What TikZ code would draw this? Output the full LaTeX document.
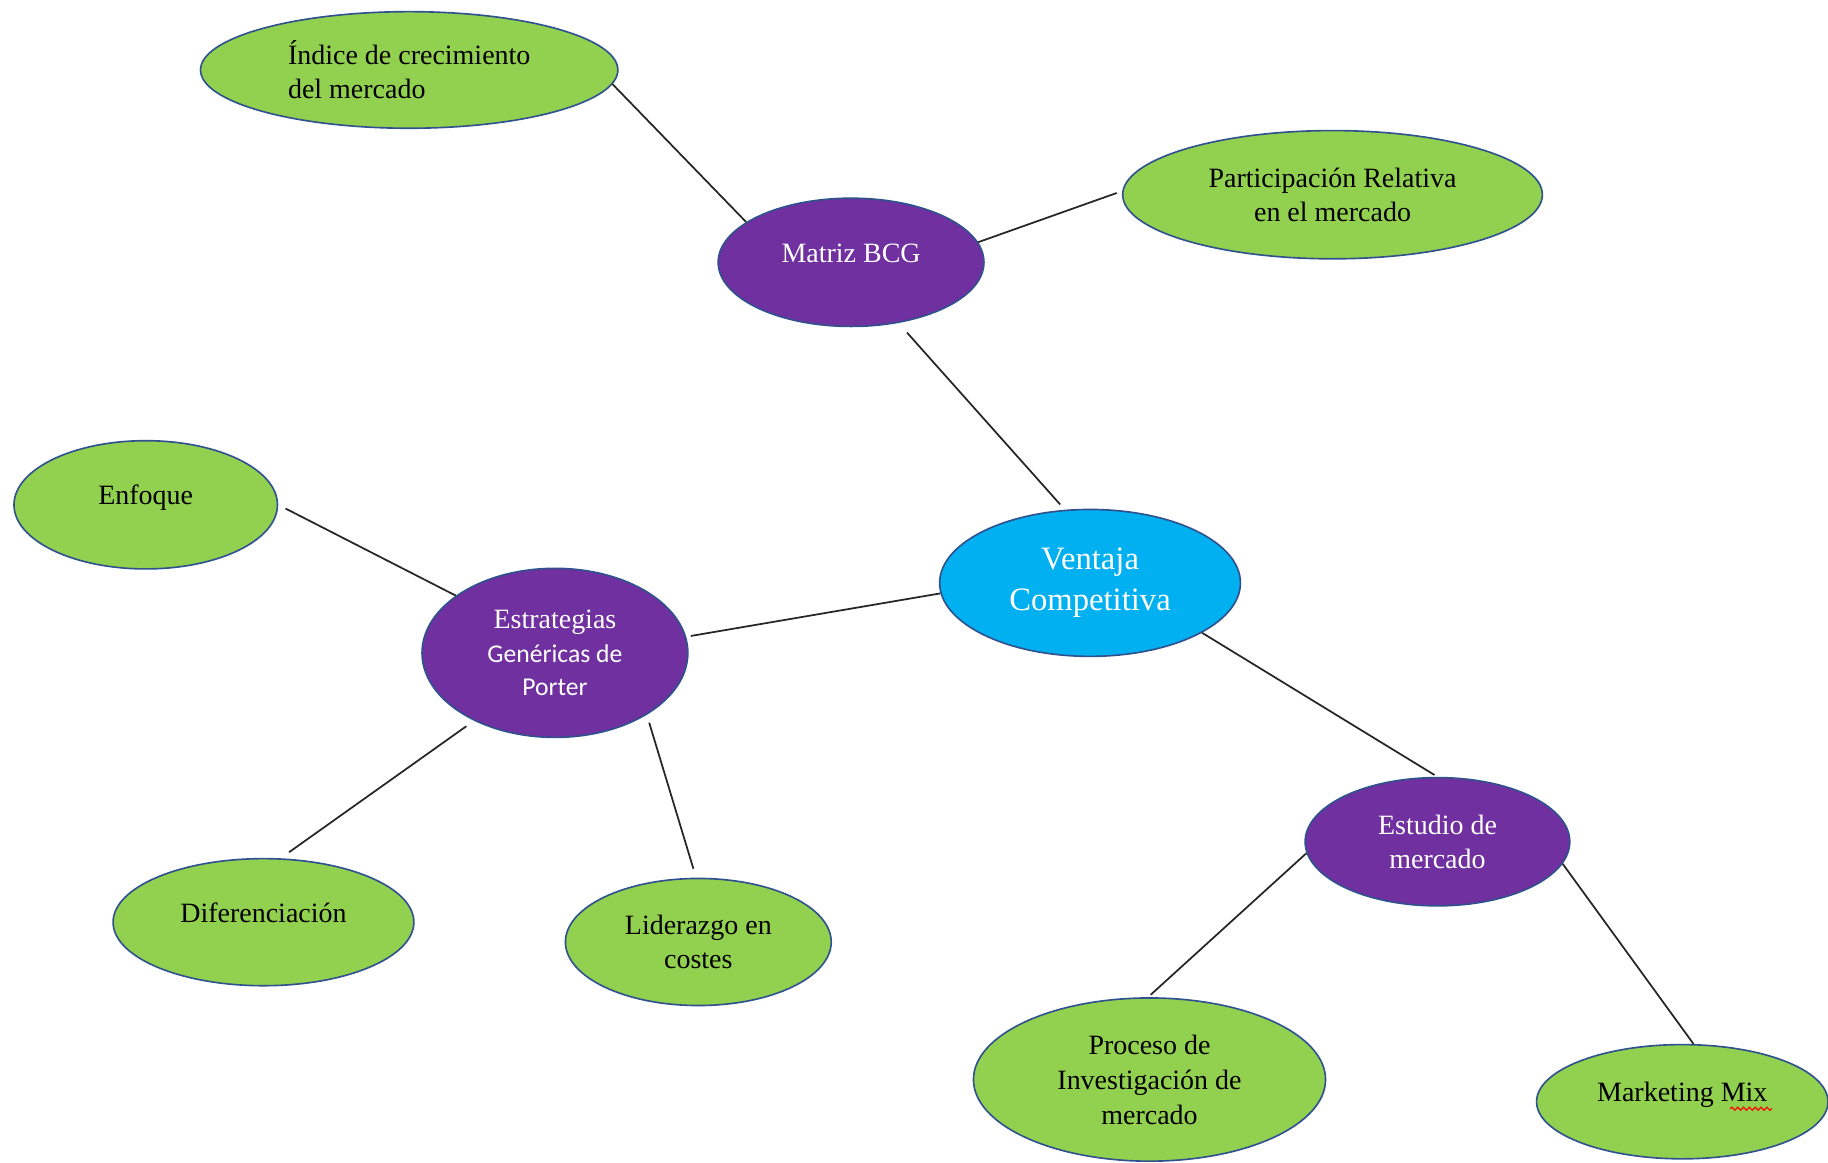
\documentclass[tikz,border=0pt]{standalone}
\usepackage{fontspec}
\setmainfont{Liberation Serif}
\newfontfamily\calib{Carlito}
\usetikzlibrary{shapes.geometric,decorations.pathmorphing}
\definecolor{gfill}{HTML}{92D050}
\definecolor{pfill}{HTML}{7030A0}
\definecolor{cfill}{HTML}{00B0F0}
\definecolor{edgeblue}{HTML}{2F528F}
\begin{document}
\begin{tikzpicture}[x=1pt,y=-1pt,
  bub/.style={ellipse, draw=edgeblue, line width=1.4pt, inner sep=0pt,
    font=\fontsize{24}{29}\selectfont, align=center},
  gbub/.style={bub, fill=gfill, text=black},
  pbub/.style={bub, fill=pfill, text=white},
  cbub/.style={bub, fill=cfill, text=white, font=\fontsize{28}{35}\selectfont},
  oneline/.style={text height=16pt, text depth=16pt},
  conn/.style={draw=black!85, line width=1.5pt}]
\useasboundingbox (0,0) rectangle (1568,997);

\node[gbub, align=left, minimum width=358pt, minimum height=100pt] (idx) at (351,60)
  {Índice de crecimiento\\del mercado};
\node[gbub, minimum width=360pt, minimum height=110pt] (part) at (1143,167)
  {Participación Relativa\\en el mercado};
\node[pbub, oneline, minimum width=228pt, minimum height=110pt] (bcg) at (730,225)
  {Matriz BCG};
\node[gbub, oneline, minimum width=226pt, minimum height=110pt] (enf) at (125,433)
  {Enfoque};
\node[pbub, minimum width=228pt, minimum height=145pt] (est) at (476,560)
  {Estrategias\\{\calib\fontsize{22}{29}\selectfont Genéricas de}\\{\calib\fontsize{22}{29}\selectfont Porter}};
\node[cbub, minimum width=258pt, minimum height=126pt] (ven) at (935,500)
  {Ventaja\\Competitiva};
\node[gbub, oneline, minimum width=258pt, minimum height=109pt] (dif) at (226,791)
  {Diferenciación};
\node[gbub, minimum width=228pt, minimum height=109pt] (lid) at (599,808)
  {Liderazgo en\\costes};
\node[pbub, minimum width=227pt, minimum height=110pt] (estu) at (1233,722)
  {Estudio de\\mercado};
\node[gbub, font=\fontsize{24}{30}\selectfont, minimum width=302pt, minimum height=140pt] (proc) at (986,926)
  {Proceso de\\Investigación de\\mercado};
\node[gbub, oneline, minimum width=250pt, minimum height=98pt] (mkt) at (1443,945)
  {Marketing Mix};

\draw[red, line width=1pt, decorate, decoration={snake, amplitude=1.3pt, segment length=5pt}]
  (1484,951) -- (1520,951);

\draw[conn] (idx.-4) -- (bcg.159);
\draw[conn, shorten >=5pt] (bcg.9) -- (part.179);
\draw[conn, shorten <=11pt, shorten >=6pt] (bcg.-52) -- (ven.109);
\draw[conn, shorten <=7pt] (enf.0) -- (est.150);
\draw[conn, shorten <=4pt] (est.7) -- (ven.184);
\draw[conn, shorten <=8pt, shorten >=9pt] (est.220) -- (dif.75);
\draw[conn, shorten <=7pt, shorten >=8pt] (est.-34) -- (lid.92);
\draw[conn, shorten >=3pt] (ven.-24) -- (estu.90);
\draw[conn, shorten >=3pt] (estu.185) -- (proc.91);
\draw[conn] (estu.-10) -- (mkt.79);
\end{tikzpicture}
\end{document}
